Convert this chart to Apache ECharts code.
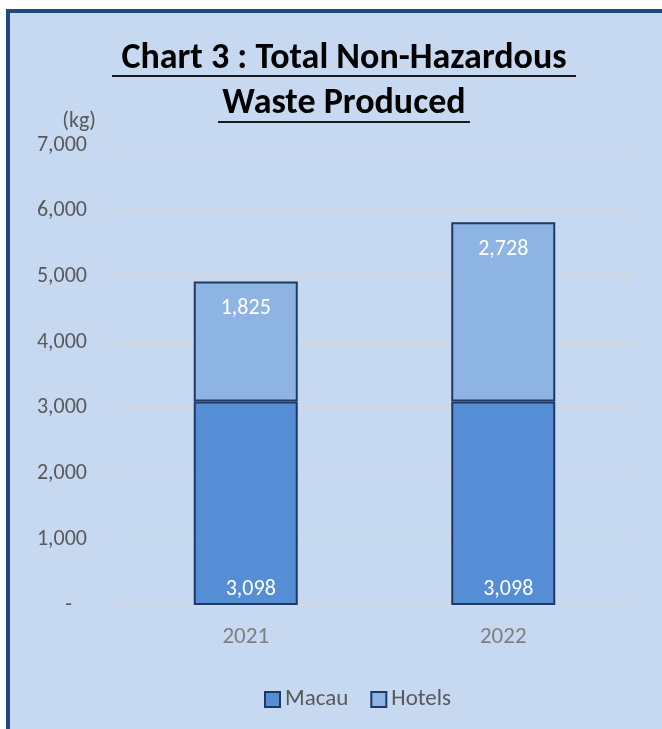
<!DOCTYPE html>
<html><head><meta charset="utf-8">
<script src="https://cdn.jsdelivr.net/npm/echarts@6/dist/echarts.min.js"></script>
<style>html,body{margin:0;padding:0;background:#fff}#c{width:662px;height:729px}</style>
</head><body><div id="c"></div>
<script>
const categories = ['2021', '2022'];
const macau = [3098, 3098];
const hotels = [1825, 2728];
const yTicks = { min: 0, max: 7000, interval: 1000 };
const titleLines = ['Chart 3 : Total Non-Hazardous', 'Waste Produced'];

const FONT = 'Carlito, Lato, sans-serif';
const chart = echarts.init(document.getElementById('c'), null, { renderer: 'canvas' });
const fmt = v => v === 0 ? '-   ' : v.toLocaleString('en-US');
const border = '#1F3864';
chart.setOption({
  backgroundColor: '#ffffff',
  textStyle: { fontFamily: FONT },
  graphic: [
    { type: 'rect', z: -10, shape: { x: 8, y: 11, width: 700, height: 800 },
      style: { fill: '#C6D9F1', stroke: '#1F497D', lineWidth: 4 } },
    { type: 'text', style: { x: 344, y: 59, text: titleLines[0], textAlign: 'center', textVerticalAlign: 'middle', font: 'bold 36px ' + FONT, fill: '#000' } },
    { type: 'text', style: { x: 344, y: 104, text: titleLines[1], textAlign: 'center', textVerticalAlign: 'middle', font: 'bold 36px ' + FONT, fill: '#000' } },
    { type: 'line', shape: { x1: 112, y1: 76, x2: 576, y2: 76 }, style: { stroke: '#1a1a1a', lineWidth: 2 } },
    { type: 'line', shape: { x1: 218, y1: 122, x2: 470, y2: 122 }, style: { stroke: '#1a1a1a', lineWidth: 2 } }
  ],
  grid: { left: 117, right: 30, top: 145, bottom: 124, containLabel: false },
  legend: {
    left: 259, top: 683, itemWidth: 15, itemHeight: 15, itemGap: 22,
    icon: 'rect',
    textStyle: { fontSize: 23, color: '#595959', fontFamily: FONT },
    data: ['Macau', 'Hotels']
  },
  xAxis: {
    type: 'category', data: categories,
    axisLine: { lineStyle: { color: '#D9D9D9', width: 1.5 } },
    axisTick: { show: false },
    axisLabel: { fontSize: 23, color: '#7F7F7F', margin: 21, fontFamily: FONT }
  },
  yAxis: {
    type: 'value', min: yTicks.min, max: yTicks.max, interval: yTicks.interval,
    name: '(kg)', nameLocation: 'end', nameGap: 13,
    nameTextStyle: { fontSize: 22, color: '#595959', align: 'right', verticalAlign: 'bottom', padding: [0, 21, 0, 0], fontFamily: FONT },
    axisLine: { show: false }, axisTick: { show: false },
    splitLine: { lineStyle: { color: '#D9D9D9', width: 1 } },
    axisLabel: { fontSize: 22, color: '#595959', margin: 30, formatter: fmt, fontFamily: FONT }
  },
  series: [
    { name: 'Macau', type: 'bar', stack: 'total', data: macau, barWidth: 104,
      itemStyle: { color: '#558ED5', borderColor: border, borderWidth: 2 },
      label: { show: true, position: 'insideBottom', distance: 5, offset: [5, 0], color: '#fff', fontSize: 22, formatter: p => fmt(p.value), fontFamily: FONT } },
    { name: 'Hotels', type: 'bar', stack: 'total', data: hotels, barWidth: 104,
      itemStyle: { color: '#8DB4E2', borderColor: border, borderWidth: 2 },
      label: { show: true, position: 'insideTop', distance: 16, color: '#fff', fontSize: 22, formatter: p => fmt(p.value), fontFamily: FONT } }
  ]
});
</script></body></html>
